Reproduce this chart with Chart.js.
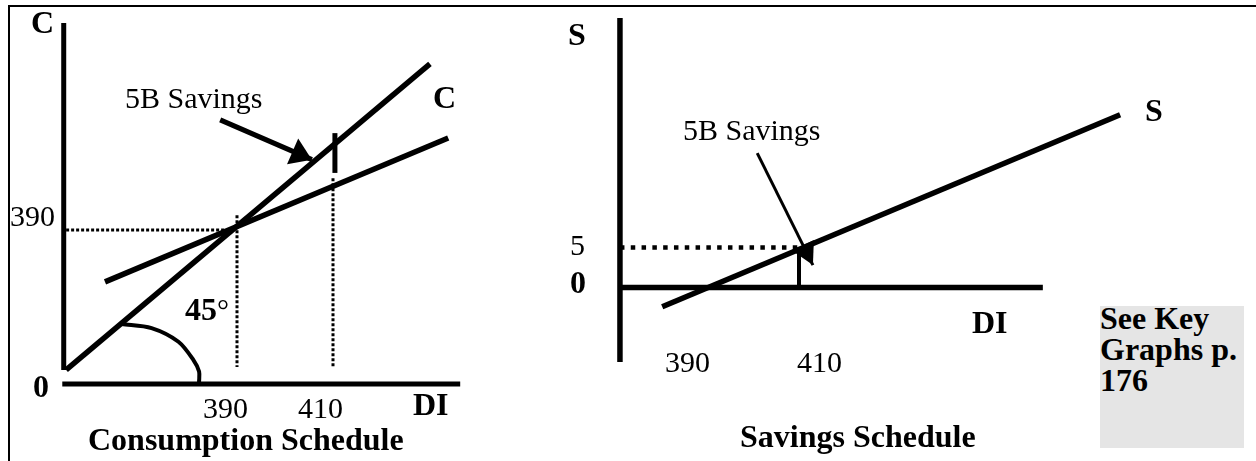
<!DOCTYPE html>
<html>
<head>
<meta charset="utf-8">
<script src="https://cdn.jsdelivr.net/npm/chart.js@4.4.1/dist/chart.umd.min.js"></script>
<style>
  body { margin: 0; background: #fff; }
  #wrap { position: relative; width: 1256px; height: 461px; overflow: hidden; font-family: "Liberation Serif", "Times New Roman", serif; color: #000; }
  #frame { position: absolute; left: 8px; top: 5px; right: 0; bottom: -5px; border-top: 2px solid #000; border-left: 2px solid #000; }
  #chart { position: absolute; left: 0; top: 0; }
  .t { position: absolute; white-space: nowrap; font-size: 30px; line-height: 30px; }
  .b { position: absolute; white-space: nowrap; font-size: 32px; line-height: 32px; font-weight: bold; }
  #note { position: absolute; left: 1100px; top: 306px; width: 144px; height: 142px; background: #e5e5e5; }
  #note div { margin-top: -3px; font-size: 32px; line-height: 31px; font-weight: bold; }
</style>
</head>
<body>
<div id="wrap">
  <div id="frame"></div>
  <div id="note"><div>See Key<br>Graphs p.<br>176</div></div>
  <canvas id="chart" width="1256" height="461"></canvas>

  <!-- consumption schedule labels -->
  <div class="b" style="left:31px;top:6px">C</div>
  <div class="t" style="left:10px;top:201px">390</div>
  <div class="b" style="left:33px;top:370px">0</div>
  <div class="t" style="left:203px;top:393px">390</div>
  <div class="t" style="left:298px;top:393px">410</div>
  <div class="b" style="left:413px;top:388px">DI</div>
  <div class="b" style="left:88px;top:423px">Consumption Schedule</div>
  <div class="t" style="left:125px;top:83px">5B Savings</div>
  <div class="b" style="left:433px;top:81px">C</div>
  <div class="b" style="left:185px;top:293px">45<span style="font-weight:normal;font-size:30px">°</span></div>

  <!-- savings schedule labels -->
  <div class="b" style="left:568px;top:18px">S</div>
  <div class="t" style="left:570px;top:230px">5</div>
  <div class="b" style="left:570px;top:266px">0</div>
  <div class="t" style="left:683px;top:115px">5B Savings</div>
  <div class="b" style="left:1145px;top:94px">S</div>
  <div class="b" style="left:972px;top:306px">DI</div>
  <div class="t" style="left:665px;top:347px">390</div>
  <div class="t" style="left:797px;top:347px">410</div>
  <div class="b" style="left:740px;top:420px">Savings Schedule</div>
</div>

<script>
// ---- consumption schedule: x = disposable income (DI), y = consumption (C)
const diTicks = [390, 410];
const breakEvenC = 390;
const line45DI = [354.4, 430.2];
const line45C  = [355.2, 431.3];
const consDI = [362.5, 434.0];
const consC  = [377.1, 412.9];
const gapMarkDI = 410.4;
const gapMarkC = [404.2, 414.1];
const arcDI = [366.0, 372.2, 377.8, 380.9, 382.1, 382.1];
const arcC  = [366.6, 365.6, 362.2, 357.7, 354.8, 352.2];
const arrowLDI = [386.5, 405.6];
const arrowLC  = [417.4, 407.5];

// ---- savings schedule: x = DI, y = saving (S)
const savDI = [381.5, 476.9];
const savS  = [-2.4, 21.6];
const savingAt410 = 5;
const arrowRDI = [401.3, 412.9];
const arrowRS  = [16.8, 2.8];

// axis frames (data units)
const leftAxisDI = 353.9, leftAxisC = [355.2, 441.5];
const leftBaseC = 351.7, leftBaseDI = [353.6, 436.5];
const rightAxisDI = 372.7, rightAxisS = [-9.3, 33.7];
const rightBaseDI = [372.7, 460.8];

const pts = (xs, ys) => xs.map((x, i) => ({ x, y: ys[i] }));

function seg(data, side, width, extra) {
    return Object.assign({
        data: data,
        xAxisID: 'x' + side,
        yAxisID: 'y' + side,
        showLine: true,
        pointRadius: 0,
        borderColor: '#000',
        backgroundColor: '#000',
        borderWidth: width,
        fill: false
    }, extra || {});
}

const dotted = { borderDash: [3, 2] };

const datasets = [
    // left frame
    seg(pts([leftAxisDI, leftAxisDI], leftAxisC), 'L', 5),
    seg(pts(leftBaseDI, [leftBaseC, leftBaseC]), 'L', 5),
    // guides
    seg(pts([354.4, 389], [breakEvenC, breakEvenC]), 'L', 3, dotted),
    seg(pts([diTicks[0], diTicks[0]], [393.7, 355.9]), 'L', 3, dotted),
    seg(pts([diTicks[1], diTicks[1]], [402.9, 355.9]), 'L', 3, dotted),
    // schedules
    seg(pts(line45DI, line45C), 'L', 5.5),
    seg(pts(consDI, consC), 'L', 5.5),
    seg(pts([gapMarkDI, gapMarkDI], gapMarkC), 'L', 5),
    seg(pts(arcDI, arcC), 'L', 4, { tension: 0.3 }),
    seg(pts(arrowLDI, arrowLC), 'L', 5, { arrow: { len: 21, half: 14 } }),

    // right frame
    seg(pts([rightAxisDI, rightAxisDI], rightAxisS), 'R', 5.5),
    seg(pts(rightBaseDI, [0, 0]), 'R', 5.5),
    seg(pts([rightAxisDI, diTicks[1]], [savingAt410, savingAt410]), 'R', 4.5, { borderDash: [4.5, 6.3] }),
    seg(pts([diTicks[1], diTicks[1]], [0, savingAt410]), 'R', 4),
    seg(pts(savDI, savS), 'R', 5.5),
    seg(pts(arrowRDI, arrowRS), 'R', 3, { arrow: { len: 22, half: 12 } })
];

// simple filled arrow head at the last point of a dataset
const arrowHeads = {
    id: 'arrowHeads',
    afterDatasetsDraw(chart) {
        const ctx = chart.ctx;
        chart.data.datasets.forEach((ds, i) => {
            if (!ds.arrow) return;
            const p = chart.getDatasetMeta(i).data;
            const a = p[p.length - 2], b = p[p.length - 1];
            const ang = Math.atan2(b.y - a.y, b.x - a.x);
            ctx.save();
            ctx.translate(b.x, b.y);
            ctx.rotate(ang);
            ctx.beginPath();
            ctx.moveTo(0, 0);
            ctx.lineTo(-ds.arrow.len, -ds.arrow.half);
            ctx.lineTo(-ds.arrow.len, ds.arrow.half);
            ctx.closePath();
            ctx.fillStyle = '#000';
            ctx.fill();
            ctx.restore();
        });
    }
};

new Chart(document.getElementById('chart'), {
    type: 'scatter',
    data: { datasets: datasets },
    options: {
        responsive: false,
        animation: false,
        events: [],
        layout: { padding: 0 },
        plugins: { legend: { display: false }, tooltip: { enabled: false } },
        scales: {
            // ranges chosen so both panels sit where they do in the drawing
            xL: { type: 'linear', axis: 'x', display: false, min: 340.625, max: 602.292 },
            yL: { type: 'linear', axis: 'y', display: false, min: 332.537, max: 447.214 },
            xR: { type: 'linear', axis: 'x', display: false, min: 243.542, max: 505.208 },
            yR: { type: 'linear', axis: 'y', display: false, min: -21.6875, max: 35.9375 }
        }
    },
    plugins: [arrowHeads]
});
</script>
</body>
</html>
